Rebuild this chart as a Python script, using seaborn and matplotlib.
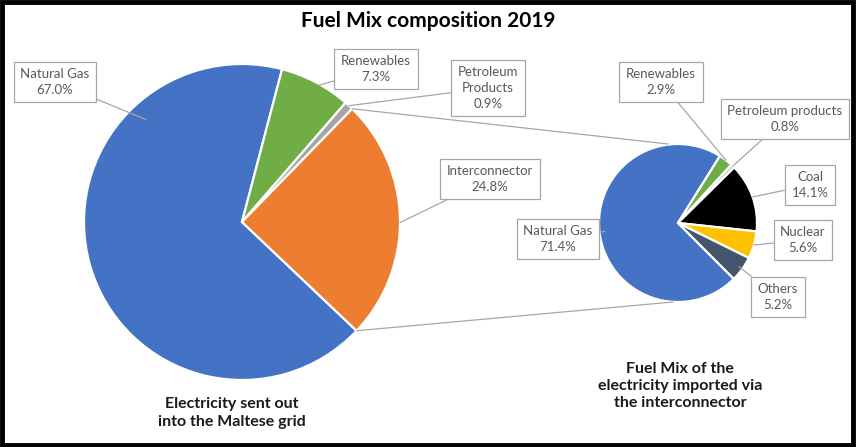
import numpy as np
import matplotlib
matplotlib.use("Agg")
import matplotlib.pyplot as plt
import seaborn as sns
from matplotlib.patches import Rectangle

# Datos: mezcla de combustibles 2019
grid_labels = ["Natural Gas", "Renewables", "Petroleum\nProducts", "Interconnector"]
grid_share = [67.0, 7.3, 0.9, 24.8]

import_labels = ["Natural Gas", "Renewables", "Petroleum products", "Coal", "Nuclear", "Others"]
import_share = [71.4, 2.9, 0.8, 14.1, 5.6, 5.2]

title = "Fuel Mix composition 2019"
grid_caption = "Electricity sent out\ninto the Maltese grid"
import_caption = "Fuel Mix of the\nelectricity imported via\nthe interconnector"

sns.set_theme(style="white")
plt.rcParams['font.family'] = ['Lato', 'DejaVu Sans']

grid_colors = sns.color_palette(["#4472C4", "#70AD47", "#A5A5A5", "#ED7D31"])
import_colors = sns.color_palette(["#4472C4", "#70AD47", "#C9C9C9", "#000000", "#FFC000", "#44546A"])

W, H = 856, 447
fig = plt.figure(figsize=(W / 100, H / 100), dpi=100)
ax = fig.add_axes([0, 0, 1, 1])


def py(y):
    # coordenadas en pixeles (desde arriba) a coordenadas del eje
    return H - y


left_c, left_r = (242, py(222)), 158
right_c, right_r = (678, py(223)), 79

wp = dict(edgecolor="white", linewidth=1.6)
left_wedges, _ = ax.pie(grid_share, colors=grid_colors, startangle=-43.5, counterclock=False,
                        center=left_c, radius=left_r, wedgeprops=wp)
right_wedges, _ = ax.pie(import_share, colors=import_colors, startangle=-45, counterclock=False,
                         center=right_c, radius=right_r, wedgeprops=wp)

ax.set_xlim(0, W)
ax.set_ylim(0, H)
ax.set_aspect("equal")
ax.axis("off")


def wedge_point(w, frac=0.5, rfrac=1.0):
    ang = np.deg2rad(w.theta1 + (w.theta2 - w.theta1) * frac)
    cx, cy = w.center
    return cx + w.r * rfrac * np.cos(ang), cy + w.r * rfrac * np.sin(ang)


box = dict(boxstyle="square,pad=0.5", fc="white", ec="#A6A6A6", lw=0.9)
arrow = dict(arrowstyle="-", color="#A6A6A6", lw=0.9, shrinkA=0, shrinkB=0)

# posiciones de las etiquetas (centro de la caja) y punto de anclaje en la cuña
left_layout = [((55, 82), 0.24, 0.89),
               ((376, 69), 0.45, 0.99),
               ((488, 88), 0.5, 1.0),
               ((490, 179), 0.485, 1.0)]
right_layout = [((558, 239), 0.5, 0.93),
                ((661, 82), 0.5, 1.0),
                ((785, 119), 0.5, 1.0),
                ((810, 185), 0.5, 1.0),
                ((803, 240), 0.5, 1.0),
                ((778, 297), 0.5, 0.95)]

for w, lab, val, (pos, frac, rf) in zip(left_wedges, grid_labels, grid_share, left_layout):
    ax.annotate(f"{lab}\n{val:.1f}%", xy=wedge_point(w, frac, rf), xytext=(pos[0], py(pos[1])),
                ha="center", va="center", fontsize=9.5, color="#595959", linespacing=1.35,
                bbox=box, arrowprops=arrow, zorder=5)

for w, lab, val, (pos, frac, rf) in zip(right_wedges, import_labels, import_share, right_layout):
    ax.annotate(f"{lab}\n{val:.1f}%", xy=wedge_point(w, frac, rf), xytext=(pos[0], py(pos[1])),
                ha="center", va="center", fontsize=9.5, color="#595959", linespacing=1.35,
                bbox=box, arrowprops=arrow, zorder=5)

# lineas que unen la cuña del interconector con el segundo pastel
inter = left_wedges[3]
top_pt = wedge_point(inter, 1.0, 1.0)
bot_pt = wedge_point(inter, 0.0, 1.0)
ax.plot([top_pt[0], right_c[0] - 10], [top_pt[1], right_c[1] + right_r], color="#A6A6A6", lw=0.9, zorder=1)
ax.plot([bot_pt[0], right_c[0] - 5], [bot_pt[1], right_c[1] - right_r], color="#A6A6A6", lw=0.9, zorder=1)

ax.text(428, py(21), title, ha="center", va="center", fontsize=15, fontweight="bold", color="black")
ax.text(232, py(413), grid_caption, ha="center", va="center", fontsize=11.5, fontweight="bold",
        color="#1a1a1a", linespacing=1.3)
ax.text(680, py(386), import_caption, ha="center", va="center", fontsize=11.5, fontweight="bold",
        color="#1a1a1a", linespacing=1.3)

# marco negro
ax.add_patch(Rectangle((2, 2), W - 5, H - 4, fill=False, ec="black", lw=3.5, zorder=10))

fig.savefig("out.png", dpi=100)
